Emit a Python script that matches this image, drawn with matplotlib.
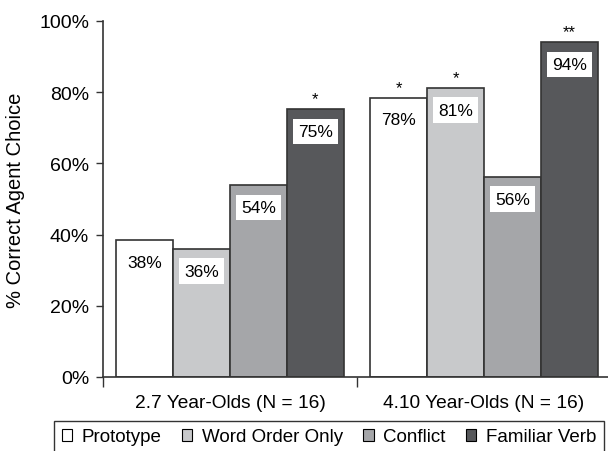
import numpy as np
from matplotlib import pyplot as plt

plt.rcParams['font.family'] = ['Liberation Sans', 'DejaVu Sans']

groups = ['2.7 Year-Olds (N = 16)', '4.10 Year-Olds (N = 16)']
conditions = ['Prototype', 'Word Order Only', 'Conflict', 'Familiar Verb']
# 每个条件在两个年龄组的数值 (%)
prototype = [38.5, 78.5]
word_order = [36, 81.2]
conflict = [53.8, 56.2]
familiar = [75.2, 94]
bar_labels = [['38%', '78%'], ['36%', '81%'], ['54%', '56%'], ['75%', '94%']]
stars = [['', '*'], ['', '*'], ['', ''], ['*', '**']]

colors = ['#ffffff', '#c8c9cb', '#a5a6a9', '#57585b']
edge = '#333333'

fig = plt.figure(figsize=(6.08, 4.52), dpi=100)
ax = fig.add_axes([103 / 608, 1 - 378 / 452, 508 / 608, 356 / 452])

x = np.arange(len(groups))
width = 0.2235
series = [prototype, word_order, conflict, familiar]
for i, vals in enumerate(series):
    pos = x + (i - 1.5) * width
    ax.bar(pos, vals, width, color=colors[i], edgecolor=edge, linewidth=1.2,
           label=conditions[i], zorder=2)
    for j, v in enumerate(vals):
        ax.annotate(bar_labels[i][j], (pos[j], v), xytext=(0, -16), textcoords='offset points',
                    ha='center', va='center', fontsize=12.5,
                    bbox=dict(boxstyle='square,pad=0.3', fc='white', ec='none'), zorder=3)
        if stars[i][j]:
            ax.annotate(stars[i][j], (pos[j], v), xytext=(0, 2), textcoords='offset points',
                        ha='center', va='bottom', fontsize=12)

ax.set_xlim(-0.5, 1.5)
ax.set_ylim(0, 100)
ax.set_yticks(np.arange(0, 101, 20))
ax.set_yticklabels([f'{t}%' for t in range(0, 101, 20)], fontsize=14)
ax.set_xticks(x)
ax.set_xticklabels(groups, fontsize=13.8)
ax.set_xticks([-0.5, 0.5, 1.5], minor=True)
ax.tick_params(axis='x', which='major', length=0, pad=12)
ax.tick_params(axis='x', which='minor', length=7, width=1, color=edge)
ax.tick_params(axis='y', length=5, width=1, color=edge, pad=5)
ax.set_ylabel('% Correct Agent Choice', fontsize=14.5, labelpad=10)

for s in ['top', 'right']:
    ax.spines[s].set_visible(False)
for s in ['left', 'bottom']:
    ax.spines[s].set_color(edge)
    ax.spines[s].set_linewidth(1.2)

leg = fig.legend(loc='upper center', bbox_to_anchor=(329 / 608, 1 - 422 / 452), ncol=4,
                 fontsize=13.5, frameon=True, fancybox=False, edgecolor='black',
                 handlelength=0.55, handleheight=0.55, handletextpad=0.5, columnspacing=1.1,
                 borderpad=0.4, borderaxespad=0)
leg.get_frame().set_linewidth(1)
for h in leg.legend_handles:
    h.set_edgecolor('black')
    h.set_linewidth(0.8)

plt.savefig('out.png', dpi=100)
